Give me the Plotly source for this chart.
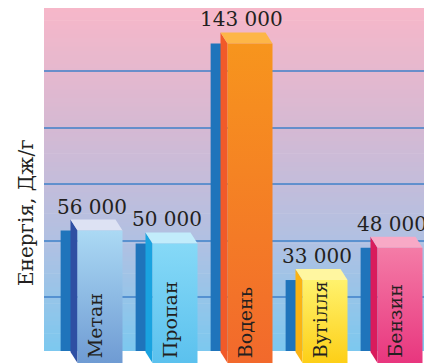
import plotly.graph_objects as go

# ---- data ----
fuels = ["Метан", "Пропан", "Водень", "Вугілля", "Бензин"]
energy = [56000, 50000, 143000, 33000, 48000]
value_labels = ["56 000", "50 000", "143 000", "33 000", "48 000"]
axis_title = "Енергія, Дж/г"
grid_vals = [25100, 51150, 77650, 103700, 130200]

# ---- styles ----
front_colors = [("#6f9bd3", "#abd9f4"), ("#5bc1ee", "#86d9f7"), ("#f2692c", "#f7951d"),
                ("#fdcf17", "#fff26d"), ("#e8367e", "#f47ca7")]
side_colors = ["#2e4fa3", "#1aa3e0", "#f15a29", "#fbb313", "#d91b5c"]
top_colors = ["#dde2f3", "#c2ecfb", "#fdb648", "#fff6a0", "#f8a9c6"]
back_color = "#1f74bb"
bg_stops = [(0.0, (124, 200, 239)), (0.3, (174, 193, 227)), (0.65, (213, 185, 211)), (1.0, (247, 183, 201))]

Y0, Y1 = -5580, 159500
X0, X1 = -0.7467, 4.4267
PX_Y = 355 / (Y1 - Y0)
PX_X = 75.0
dx = 7 / PX_X
dy = 11 / PX_Y
half = 0.3


def bg_color(t):
    for (t0, c0), (t1, c1) in zip(bg_stops[:-1], bg_stops[1:]):
        if t0 <= t <= t1:
            f = (t - t0) / (t1 - t0)
            return "rgb(%d,%d,%d)" % tuple(round(a + (b - a) * f) for a, b in zip(c0, c1))
    return "rgb(%d,%d,%d)" % bg_stops[-1][1]


shapes = []
N = 80
for k in range(N):
    ya = Y1 * k / N
    yb = Y1 * (k + 1) / N
    shapes.append(dict(type="rect", xref="x", yref="y", x0=X0, x1=X1, y0=ya, y1=yb + 300,
                       fillcolor=bg_color((k + 0.5) / N), line=dict(width=0), layer="below"))
for g in grid_vals:
    shapes.append(dict(type="line", xref="x", yref="y", x0=X0, x1=X1, y0=g, y1=g,
                       line=dict(color="#3f80c8", width=1.5), layer="below"))

fig = go.Figure()

# back blue bars
fig.add_trace(go.Bar(x=list(range(len(fuels))), y=energy, offset=-0.525, width=0.145,
                     marker=dict(color=back_color, line=dict(width=0)),
                     hoverinfo="skip", showlegend=False))

for i, (name, v) in enumerate(zip(fuels, energy)):
    xl, xr = i - half, i + half
    # side face
    fig.add_trace(go.Scatter(
        x=[xl, xl, xl - dx, xl - dx, xl], y=[Y0, v, v + dy, Y0 + dy, Y0],
        mode="lines", line=dict(width=0), fill="toself", fillcolor=side_colors[i],
        hoverinfo="skip", showlegend=False))
    # top face
    fig.add_trace(go.Scatter(
        x=[xl, xr, xr - dx, xl - dx, xl], y=[v, v, v + dy, v + dy, v],
        mode="lines", line=dict(width=0), fill="toself", fillcolor=top_colors[i],
        hoverinfo="skip", showlegend=False))
    # front face
    fig.add_trace(go.Scatter(
        x=[xl, xr, xr, xl, xl], y=[Y0, Y0, v, v, Y0],
        mode="lines", line=dict(width=0), fill="toself",
        fillgradient=dict(type="vertical",
                          colorscale=[[0, front_colors[i][0]], [1, front_colors[i][1]]]),
        hoverinfo="skip", showlegend=False))

annotations = []
for i, (name, v, lab) in enumerate(zip(fuels, energy, value_labels)):
    annotations.append(dict(x=i - 0.107, y=v, text=lab, showarrow=False, borderpad=0,
                            xref="x", yref="y", yanchor="bottom", yshift=11,
                            font=dict(family="DejaVu Serif", size=20, color="#231f20")))
    annotations.append(dict(x=i - 0.07, y=Y0, text=name, showarrow=False, textangle=-90,
                            xref="x", yref="y", yanchor="bottom", yshift=3,
                            font=dict(family="DejaVu Serif", size=19, color="#231f20")))

# figure is offset by the page's 8px body margin
W, H = 424, 355
ML = 36
annotations.append(dict(xref="paper", yref="paper", x=(26 - 8 - ML) / (W - ML), y=(H - (213 - 8)) / H,
                        text=axis_title, showarrow=False, textangle=-90,
                        xanchor="center", yanchor="middle",
                        font=dict(family="DejaVu Serif", size=20, color="#231f20")))

fig.update_layout(
    width=W, height=H,
    margin=dict(l=ML, r=0, t=0, b=0),
    paper_bgcolor="white", plot_bgcolor="white",
    barmode="overlay",
    xaxis=dict(range=[X0, X1], visible=False, fixedrange=True),
    yaxis=dict(range=[Y0, Y1], visible=False, fixedrange=True),
    showlegend=False,
    shapes=shapes,
    annotations=annotations,
)

fig.write_html("out.html")
